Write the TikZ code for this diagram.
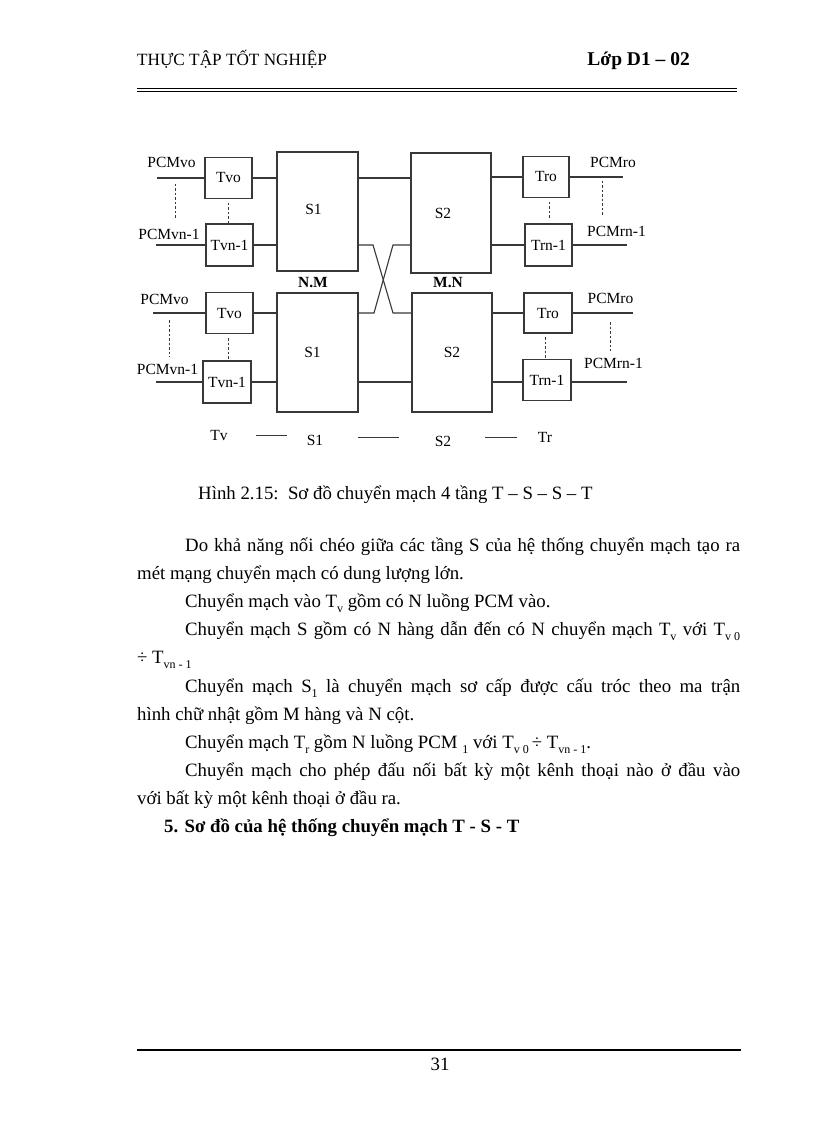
\documentclass[tikz,border=0pt]{standalone}
\usepackage{fontspec}
\setmainfont{Liberation Serif}
\newcommand\dfont{\fontsize{15.5}{18}\selectfont}
\newcommand\bfont{\fontsize{18.8}{22}\selectfont}
\newcommand\sbs[1]{\raisebox{-0.28em}{\fontsize{12}{12}\selectfont #1}}
\colorlet{dline}{black!78}
\tikzset{
  box/.style={draw=dline, line width=1.1pt, inner sep=0pt, font=\dfont},
  wire/.style={draw=dline, line width=1.1pt},
  dots/.style={draw=dline, line width=0.9pt, dash pattern=on 2.5pt off 2pt},
  lbl/.style={inner sep=0pt, font=\dfont},
  txt/.style={inner sep=0pt, anchor=base west, font=\bfont},
}
\begin{document}
\begin{tikzpicture}[x=1pt,y=-1pt]
\useasboundingbox (0,0) rectangle (816,1123);
\fill[white] (0,0) rectangle (816,1123);

% header
\node[txt] (hl) at (137,66) {\fontsize{17.2}{20}\selectfont THỰC TẬP TỐT NGHIỆP};
\node[txt, anchor=base east] (hr) at (690,66) {\fontsize{19.5}{22}\selectfont\bfseries Lớp D1 – 02};
\draw[line width=1.2pt] (137,88.5) -- (737,88.5);
\draw[line width=1.2pt] (137,91.8) -- (737,91.8);

% ---------- top half ----------
\node[box, minimum width=47pt, minimum height=41pt] (tvo1) at (228.5,178) {Tvo};
\node[box, minimum width=47pt, minimum height=42pt] (tvn1) at (229.5,245) {Tvn-1};
\node[box, minimum width=81pt, minimum height=119pt] (s1a) at (317.5,211.5) {\hspace*{-8pt}S1\rule[-4pt]{0pt}{0pt}};
\node[box, minimum width=80pt, minimum height=120pt] (s2a) at (451,213) {\hspace*{-16pt}S2};
\node[box, minimum width=46pt, minimum height=41pt] (tro1) at (546,177) {Tro};
\node[box, minimum width=47pt, minimum height=42pt] (trn1) at (548.5,245) {Trn-1};

\node[lbl] (pvo1) at (171.5,162) {PCMvo};
\node[lbl] (pvn1) at (169,234) {PCMvn-1};
\node[lbl] (pro1) at (613,162) {PCMro};
\node[lbl] (prn1) at (616.5,231) {PCMrn-1};
\node[lbl, font=\dfont\bfseries] (nm) at (313,283) {N.M};
\node[lbl, font=\dfont\bfseries] (mn) at (448,283) {M.N};

\coordinate (i1) at (157,178);
\coordinate (i2) at (156,245);
\coordinate (o1) at (623,177);
\coordinate (o2) at (627,245);
\draw[wire] (i1) -- (tvo1);
\draw[wire] (i2) -- (tvn1);
\draw[wire] (tvo1) -- (tvo1 -| s1a.west);
\draw[wire] (tvn1) -- (tvn1 -| s1a.west);
\draw[wire] (s1a.east |- tvo1) -- (s2a.west |- tvo1);
\draw[wire] (s2a.east |- tro1) -- (tro1);
\draw[wire] (s2a.east |- trn1) -- (trn1);
\draw[wire] (tro1) -- (o1);
\draw[wire] (trn1) -- (o2);

\draw[dots] (175,184) -- (175,219);
\draw[dots] (228,203) -- (228,223);
\draw[dots] (602,181) -- (602,216);
\draw[dots] (549,202) -- (549,220);

% ---------- bottom half ----------
\node[box, minimum width=47pt, minimum height=41pt] (tvo2) at (229.5,313) {Tvo};
\node[box, minimum width=48pt, minimum height=42pt] (tvn2) at (227,382) {Tvn-1};
\node[box, minimum width=81pt, minimum height=119pt] (s1b) at (317.5,352.5) {\hspace*{-10pt}S1};
\node[box, minimum width=80pt, minimum height=119pt] (s2b) at (452,352.5) {S2};
\node[box, minimum width=48pt, minimum height=40pt] (tro2) at (548,313) {Tro};
\node[box, minimum width=48pt, minimum height=41pt] (trn2) at (547,380) {Trn-1};

\node[lbl] (pvo2) at (164.5,299) {PCMvo};
\node[lbl] (pvn2) at (167.5,369) {PCMvn-1};
\node[lbl] (pro2) at (610.5,298) {PCMro};
\node[lbl] (prn2) at (613.5,363) {PCMrn-1};

\coordinate (i3) at (153,313);
\coordinate (i4) at (156,382);
\coordinate (o3) at (633,313);
\coordinate (o4) at (627,382);
\draw[wire] (i3) -- (tvo2);
\draw[wire] (i4) -- (tvn2.west |- i4);
\draw[wire] (tvo2) -- (tvo2 -| s1b.west);
\draw[wire] (tvn2.east |- i4) -- (s1b.west |- i4);
\draw[wire] (s1b.east |- i4) -- (s2b.west |- i4);
\draw[wire] (s2b.east |- tro2) -- (tro2);
\draw[wire] (s2b.east |- i4) -- (trn2.west |- i4);
\draw[wire] (tro2) -- (o3);
\draw[wire] (trn2.east |- i4) -- (o4);

\draw[dots] (169,320) -- (169,357);
\draw[dots] (228,338) -- (228,361);
\draw[dots] (610,322) -- (610,351);
\draw[dots] (545,337) -- (545,359);

% cross between the S stages
\coordinate (xa) at (373,245);
\coordinate (xb) at (393,313);
\coordinate (xc) at (393,245);
\coordinate (xd) at (374,313);
\draw[wire] (s1a.east |- tvn1) -- (xa) -- (xb) -- (xb -| s2b.west);
\draw[wire] (s2a.west |- tvn1) -- (xc) -- (xd) -- (xd -| s1b.east);

% stage row
\node[lbl] (btv) at (219,435) {Tv};
\node[lbl] (bs1) at (315,440) {S1};
\node[lbl] (bs2) at (443,441) {S2};
\node[lbl] (btr) at (545,437) {Tr};
\coordinate (d1a) at (256,435); \coordinate (d1b) at (287,435);
\coordinate (d2a) at (358,437); \coordinate (d2b) at (399,437);
\coordinate (d3a) at (485,437); \coordinate (d3b) at (517,437);
\draw[dline, line width=0.8pt] (d1a) -- (d1b);
\draw[dline, line width=0.8pt] (d2a) -- (d2b);
\draw[dline, line width=0.8pt] (d3a) -- (d3b);

% caption
\node[txt] (cap) at (198,499) {Hình 2.15:\ \ Sơ đồ chuyển mạch 4 tầng T – S – S – T};

% body text
\node[txt] (l1) at (185,551) {\makebox[555pt][s]{Do khả năng nối chéo giữa các tầng S của hệ thống chuyển mạch tạo ra}};
\node[txt] (l2) at (137,579) {mét mạng chuyển mạch có dung lượng lớn.};
\node[txt] (l3) at (185,607) {Chuyển mạch vào T\sbs{v} gồm có N luồng PCM vào.};
\node[txt] (l4) at (185,635) {\makebox[555pt][s]{Chuyển mạch S gồm có N hàng dẫn đến có N chuyển mạch T\sbs{v} với T\sbs{v 0}}};
\node[txt] (l5) at (137,663) {÷ T\sbs{vn - 1}};
\node[txt] (l6) at (185,692) {\makebox[555pt][s]{Chuyển mạch S\sbs{1} là chuyển mạch sơ cấp được cấu tróc theo ma trận}};
\node[txt] (l7) at (137,720) {hình chữ nhật gồm M hàng và N cột.};
\node[txt] (l8) at (185,748) {Chuyển mạch T\sbs{r} gồm N luồng PCM \sbs{1} với T\sbs{v 0}\,÷ T\sbs{vn - 1}.};
\node[txt] (l9) at (185,776) {\makebox[555pt][s]{Chuyển mạch cho phép đấu nối bất kỳ một kênh thoại nào ở đầu vào}};
\node[txt] (l10) at (137,804) {với bất kỳ một kênh thoại ở đầu ra.};
\node[txt, font=\bfont\bfseries] (l11) at (164,832) {5. Sơ đồ của hệ thống chuyển mạch T - S - T};

% footer
\draw[line width=2pt] (137,1050) -- (741,1050);
\node[txt, anchor=base] (pg) at (440,1070) {31};
\end{tikzpicture}
\end{document}
